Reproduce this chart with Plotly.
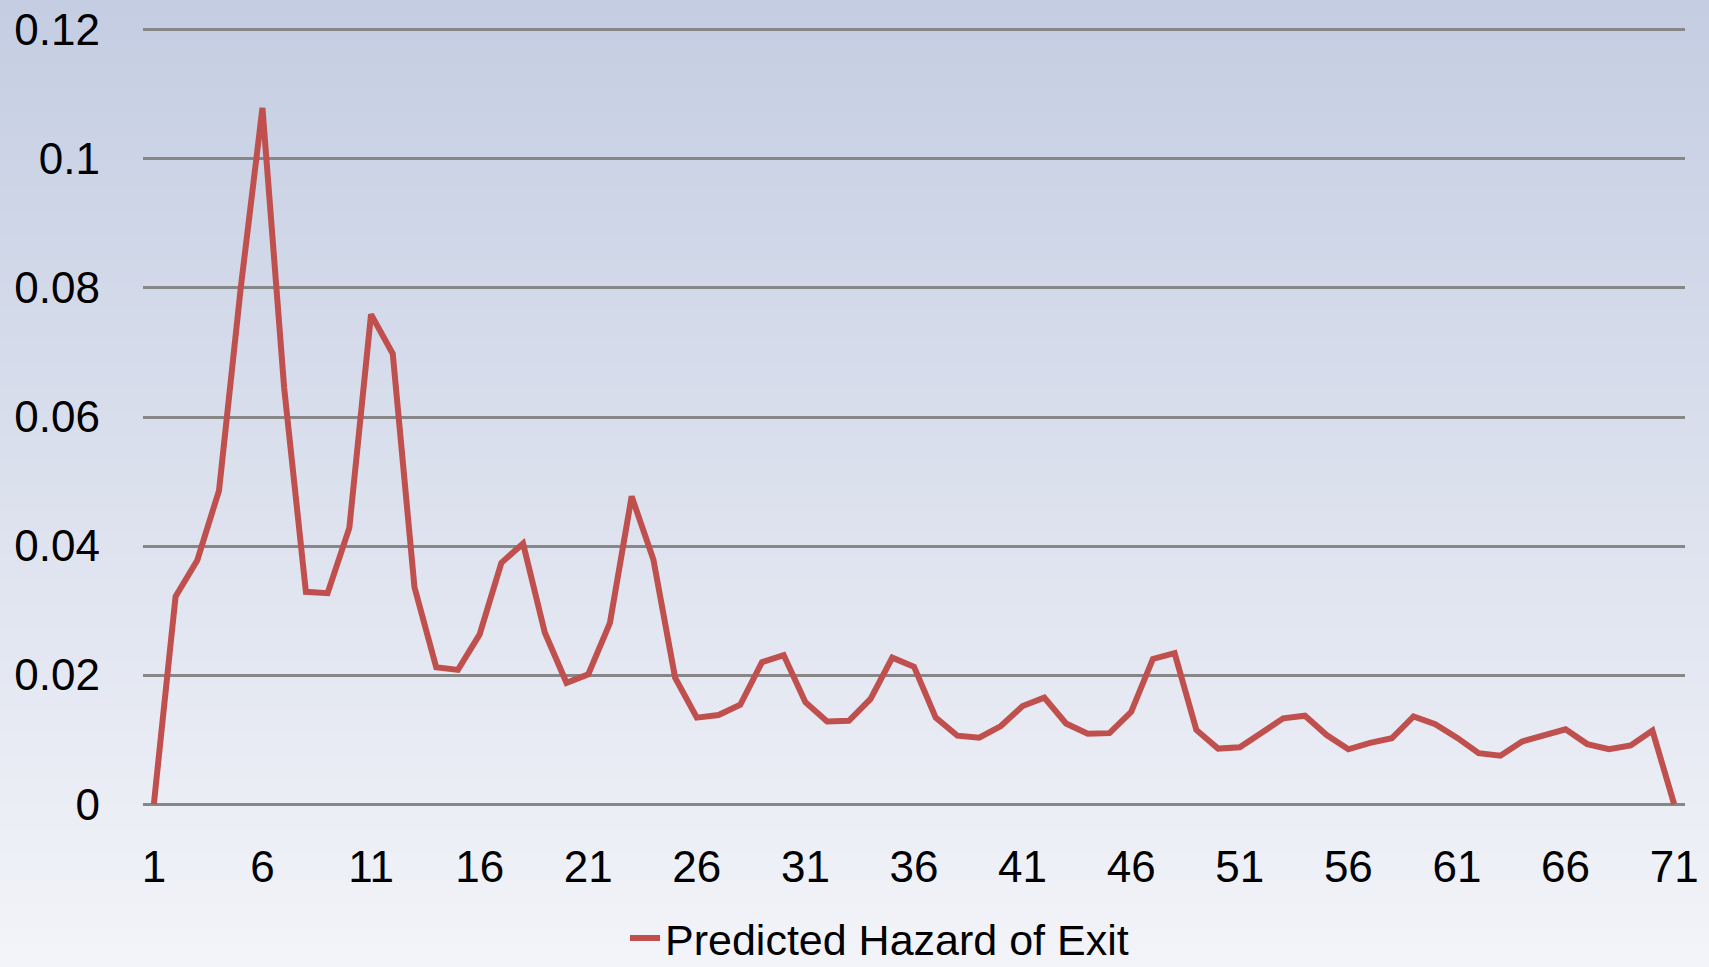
import plotly.graph_objects as go

# ---- data ----
periods = list(range(1, 72))
hazard = [
    0.0, 0.0322, 0.0378, 0.0486, 0.0800, 0.1079, 0.0645, 0.0329, 0.0327, 0.0428,
    0.0759, 0.0698, 0.0336, 0.0212, 0.0208, 0.0263, 0.0374, 0.0404, 0.0266, 0.0188,
    0.0201, 0.0281, 0.0477, 0.0379, 0.0196, 0.0134, 0.0138, 0.0154, 0.0220, 0.0231,
    0.0158, 0.0128, 0.0129, 0.0163, 0.0227, 0.0213, 0.0134, 0.0106, 0.0103, 0.0121,
    0.0152, 0.0165, 0.0125, 0.0109, 0.0110, 0.0143, 0.0225, 0.0234, 0.0115, 0.0086,
    0.0088, 0.0111, 0.0133, 0.0137, 0.0107, 0.0085, 0.0095, 0.0102, 0.0136, 0.0124,
    0.0103, 0.0079, 0.0075, 0.0097, 0.0107, 0.0116, 0.0093, 0.0085, 0.0091, 0.0114,
    0.0,
]
series_name = "Predicted Hazard of Exit"
x_tickvals = [1, 6, 11, 16, 21, 26, 31, 36, 41, 46, 51, 56, 61, 66, 71]
y_tickvals = [0, 0.02, 0.04, 0.06, 0.08, 0.1, 0.12]
y_ticktext = ["0", "0.02", "0.04", "0.06", "0.08", "0.1", "0.12"]

# ---- layout geometry ----
W, H = 1709, 967
L, R, T, B = 143, 24, 17, 150
plot_w = W - L - R
plot_h = H - T - B
FONT = "Liberation Sans, Arial, sans-serif"


def py_to_paper(p):
    return (T + plot_h - p) / plot_h


fig = go.Figure()
fig.add_trace(go.Scatter(
    x=periods, y=hazard, mode="lines", name=series_name,
    line=dict(color="#C0504D", width=6),
))

# vertical gradient background drawn as thin bands in paper coordinates
top_c = (196, 205, 226)
bot_c = (243, 244, 249)
n = 120
x0p = -L / plot_w
x1p = (W - L) / plot_w
shapes = []
for k in range(n):
    p0 = H * k / n
    p1 = H * (k + 1) / n + 1
    t = (k + 0.5) / n
    c = tuple(round(top_c[j] + (bot_c[j] - top_c[j]) * t) for j in range(3))
    shapes.append(dict(
        type="rect", xref="paper", yref="paper", layer="below",
        x0=x0p, x1=x1p, y0=py_to_paper(p1), y1=py_to_paper(p0),
        fillcolor="rgb(%d,%d,%d)" % c, line=dict(width=0),
    ))

fig.update_layout(
    width=W, height=H,
    margin=dict(l=L, r=R, t=T, b=B, autoexpand=False),
    paper_bgcolor="rgb(220,224,237)",
    plot_bgcolor="rgba(0,0,0,0)",
    shapes=shapes,
    font=dict(family=FONT, size=44, color="#000000"),
    showlegend=True,
    legend=dict(
        orientation="h", x=(625 - L) / plot_w, xanchor="left",
        y=py_to_paper(938), yanchor="middle",
        bgcolor="rgba(0,0,0,0)", font=dict(family=FONT, size=43),
    ),
    xaxis=dict(
        range=[0.5, 71.5], tickmode="array", tickvals=x_tickvals,
        showgrid=False, zeroline=False, showline=False, ticks="",
        ticklabelstandoff=20, tickfont=dict(family=FONT, size=44),
    ),
    yaxis=dict(
        range=[-0.002, 0.122], tickmode="array", tickvals=y_tickvals,
        ticktext=y_ticktext, showgrid=True, gridcolor="#878787", gridwidth=3,
        zeroline=False, showline=False, ticks="",
        ticklabelstandoff=42, tickfont=dict(family=FONT, size=44),
    ),
)

fig.write_html(
    "out.html",
    config={"displayModeBar": False},
    post_script="document.body.style.margin='0';",
)
